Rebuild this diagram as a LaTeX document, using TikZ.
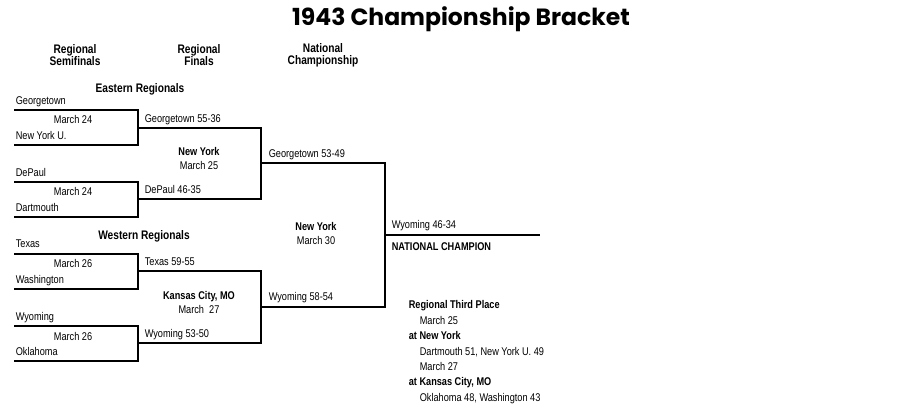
\documentclass[tikz,border=0pt]{standalone}
\usepackage{fontspec}
\setmainfont{Liberation Sans}[FakeStretch=0.82]
\newfontfamily\titlefont{Poppins}
\begin{document}
\begin{tikzpicture}[x=1pt,y=-1pt,line width=1.6pt,
  lbl/.style={anchor=base west,font=\fontsize{11.2}{12}\selectfont,inner sep=0},
  blbl/.style={lbl,font=\bfseries\fontsize{11.2}{12}\selectfont},
  ctr/.style={align=center,font=\fontsize{11.2}{14}\selectfont,inner sep=0},
  hd/.style={align=center,font=\bfseries\fontsize{12.4}{12}\selectfont,inner sep=0}]
\useasboundingbox[fill=white] (0,0) rectangle (921,408);
\node[font=\titlefont\bfseries\fontsize{23.5}{24}\selectfont] (title) at (461,19) {1943 Championship Bracket};
\node[hd] (h1) at (75,55) {Regional\\Semifinals};
\node[hd] (h2) at (199,55) {Regional\\Finals};
\node[hd] (h3) at (323,55) {National\\Championship};
% coordinates
\foreach \n/\y in {a/110,b/145,c/182,d/217,e/254,f/289,g/326,h/361}{
  \coordinate (L\n) at (14,\y); \coordinate (R\n) at (138,\y);}
\foreach \n/\y in {ab/128,cd/199,ef/271,gh/343}{
  \coordinate (S\n) at (138,\y); \coordinate (T\n) at (261,\y);}
\coordinate (U1) at (261,163); \coordinate (V1) at (385,163);
\coordinate (U2) at (261,307); \coordinate (V2) at (385,307);
\coordinate (W) at (385,235); \coordinate (X) at (540,235);
\draw (La)--(Ra)--(Rb)--(Lb);
\draw (Lc)--(Rc)--(Rd)--(Ld);
\draw (Le)--(Re)--(Rf)--(Lf);
\draw (Lg)--(Rg)--(Rh)--(Lh);
\draw (Sab)--(Tab)--(Tcd)--(Scd);
\draw (Sef)--(Tef)--(Tgh)--(Sgh);
\draw (U1)--(V1)--(V2)--(U2);
\draw (W)--(X);
% labels
\node[hd] (er) at (140,89) {Eastern Regionals};
\node[hd] (wr) at (144,236) {Western Regionals};
\node[lbl] at (15,104) {Georgetown};
\node[ctr] at (73,119) {March 24};
\node[lbl] at (15,139) {New York U.};
\node[lbl] at (15,176) {DePaul};
\node[ctr] at (73,191) {March 24};
\node[lbl] at (15,211) {Dartmouth};
\node[lbl] at (15,247) {Texas};
\node[ctr] at (73,263) {March 26};
\node[lbl] at (15,283) {Washington};
\node[lbl] at (15,320) {Wyoming};
\node[ctr] at (73,336) {March 26};
\node[lbl] at (15,355) {Oklahoma};
\node[lbl] at (144,122) {Georgetown 55-36};
\node[lbl] at (144,193) {DePaul 46-35};
\node[lbl] at (144,265) {Texas 59-55};
\node[lbl] at (144,337) {Wyoming 53-50};
\node[ctr] at (199,158) {\textbf{New York}\\March 25};
\node[ctr] at (199,302) {\textbf{Kansas City, MO}\\March\ \ 27};
\node[lbl] at (268,157) {Georgetown 53-49};
\node[lbl] at (268,300) {Wyoming 58-54};
\node[ctr] at (316,233) {\textbf{New York}\\March 30};
\node[lbl] at (391,228) {Wyoming 46-34};
\node[blbl] at (391,250) {NATIONAL CHAMPION};
\node[blbl] at (408,308) {Regional Third Place};
\node[lbl] at (419,324) {March 25};
\node[blbl] at (408,339) {at New York};
\node[lbl] at (419,355) {Dartmouth 51, New York U. 49};
\node[lbl] at (419,370) {March 27};
\node[blbl] at (408,385) {at Kansas City, MO};
\node[lbl] at (419,401) {Oklahoma 48, Washington 43};
\end{tikzpicture}
\end{document}
